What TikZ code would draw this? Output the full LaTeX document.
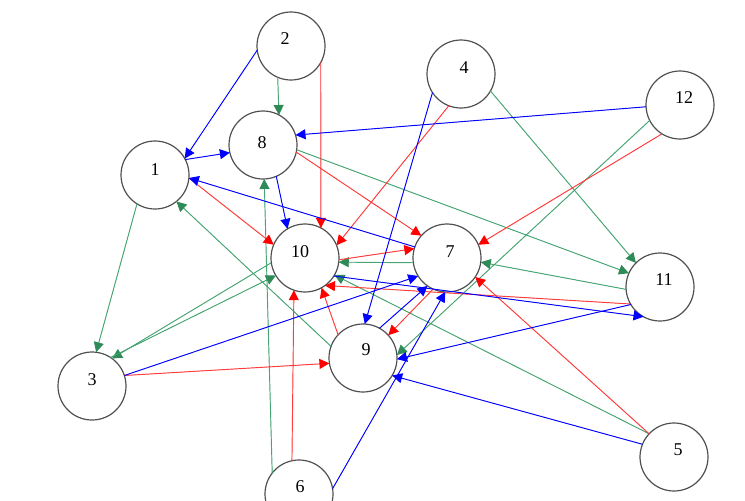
\documentclass[tikz,border=0pt]{standalone}
\usepackage{fontspec}
\setmainfont{Liberation Serif}
\usetikzlibrary{arrows.meta}
\definecolor{egreen}{RGB}{46,139,87}
\definecolor{lgreen}{RGB}{70,165,115}
\definecolor{ered}{RGB}{255,0,0}
\definecolor{lred}{RGB}{255,60,60}
\definecolor{eblue}{RGB}{0,0,255}
\definecolor{ring}{RGB}{80,80,80}
\begin{document}
\begin{tikzpicture}[x=0.75pt,y=-0.75pt,
  vx/.style={circle,draw=ring,line width=0.9pt,minimum size=51pt,inner sep=0pt,outer sep=0pt},
  lbl/.style={font=\fontsize{13.5}{16}\selectfont,inner sep=0pt,text=black},
  edge/.style={line width=0.7pt,-{Triangle[length=7.5pt,width=7.5pt]}},
  eb/.style={edge,draw=eblue,fill=eblue},
  eg/.style={edge,draw=lgreen,fill=egreen,-{Triangle[length=7.5pt,width=7.5pt,color=egreen]}},
  er/.style={edge,draw=lred,fill=ered,-{Triangle[length=7.5pt,width=7.5pt,color=ered]}}]
\useasboundingbox (0,0) rectangle (745,500);
\node[vx,label={[lbl,yshift=3.75pt]center:1}] (n1) at (155,175) {};
\node[vx,label={[lbl,xshift=-4.5pt,yshift=5.25pt]center:2}] (n2) at (291,46) {};
\node[vx,label={[lbl,yshift=4.5pt]center:3}] (n3) at (92,386) {};
\node[vx,label={[lbl,xshift=2.25pt,yshift=4.5pt]center:4}] (n4) at (461,74) {};
\node[vx,label={[lbl,xshift=3pt,yshift=5.25pt]center:5}] (n5) at (674,457) {};
\node[vx,label={[lbl,xshift=0.75pt,yshift=5.25pt]center:6}] (n6) at (299,494) {};
\node[vx,label={[lbl,xshift=2.25pt,yshift=4.5pt]center:7}] (n7) at (447,258) {};
\node[vx,label={[lbl,xshift=-0.75pt,yshift=1.5pt]center:8}] (n8) at (263,145) {};
\node[vx,label={[lbl,xshift=2.25pt,yshift=6pt]center:9}] (n9) at (363,358) {};
\node[vx,label={[lbl,xshift=-3.75pt,yshift=4.5pt]center:10}] (n10) at (305,258) {};
\node[vx,label={[lbl,xshift=3pt,yshift=5.25pt]center:11}] (n11) at (660,287) {};
\node[vx,label={[lbl,xshift=3pt,yshift=5.25pt]center:12}] (n12) at (680,105) {};
% green
\draw[eg] (n2.247) -- (n8.62);
\draw[eg] (n8.352) -- (n11.156);
\draw[eg] (n9.160) -- (n1.309);
\draw[eg] (n6.142) -- (n8.272);
\draw[eg] (n1.238) -- (n3.83);
\draw[eg] (n7.188) -- (n10.353);
\draw[eg] (n5.137) -- (n10.330);
\draw[eg] (n10.188) -- (n3.54);
\draw[eg] (n3.57) -- (n10.211);
\draw[eg] (n12.207) -- (n9.5);
\draw[eg] (n11.184) -- (n7.353);
\draw[eg] (n4.330) -- (n11.135);
% red
\draw[er] (n2.331) -- (n10.62);
\draw[er] (n8.348) -- (n7.139);
\draw[er] (n1.355) -- (n10.157);
\draw[er] (n4.249) -- (n10.22);
\draw[er] (n10.357) -- (n7.164);
\draw[er] (n11.210) -- (n10.306);
\draw[er] (n9.137) -- (n10.299);
\draw[er] (n6.102) -- (n10.251);
\draw[er] (n3.18) -- (n9.189);
\draw[er] (n7.246) -- (n9.42);
\draw[er] (n5.137) -- (n7.326);
\draw[er] (n12.238) -- (n7.23);
% blue
\draw[eb] (n2.187) -- (n1.29);
\draw[eb] (n1.27) -- (n8.193);
\draw[eb] (n12.183) -- (n8.17);
\draw[eb] (n8.293) -- (n10.121);
\draw[eb] (n7.161) -- (n1.355);
\draw[eb] (n4.213) -- (n9.87);
\draw[eb] (n10.328) -- (n11.241);
\draw[eb] (n3.18) -- (n7.212);
\draw[eb] (n9.61) -- (n7.235);
\draw[eb] (n6.9) -- (n7.267);
\draw[eb] (n11.211) -- (n9.358);
\draw[eb] (n5.158) -- (n9.329);
\end{tikzpicture}
\end{document}
